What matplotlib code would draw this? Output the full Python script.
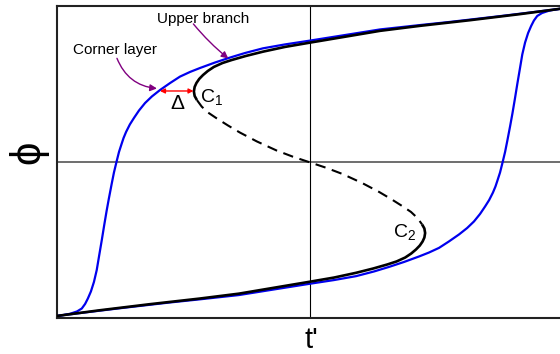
import matplotlib
matplotlib.use("Agg")
import matplotlib.pyplot as plt

plt.rcParams['font.family'] = ['Liberation Sans', 'DejaVu Sans']
plt.rcParams['mathtext.fontset'] = 'custom'
plt.rcParams['mathtext.rm'] = 'Liberation Sans'
plt.rcParams['mathtext.default'] = 'regular'

# S-shaped curve (black)
upper_t = [-0.445, -0.454, -0.457, -0.454, -0.447, -0.436, -0.421, -0.402, -0.378, -0.344,
           -0.308, -0.252, -0.183, -0.097, 0.0, 0.147, 0.279, 0.437, 0.634, 0.832, 1.0]
upper_phi = [0.398, 0.424, 0.453, 0.482, 0.507, 0.533, 0.558, 0.584, 0.610, 0.635,
             0.654, 0.680, 0.708, 0.738, 0.765, 0.805, 0.841, 0.873, 0.909, 0.948, 0.984]

lower_t = [-1.0, -0.832, -0.634, -0.437, -0.279, -0.147, 0.0, 0.097, 0.183, 0.252,
           0.308, 0.344, 0.378, 0.402, 0.421, 0.436, 0.447, 0.454, 0.457, 0.454, 0.445]
lower_phi = [-0.984, -0.948, -0.909, -0.873, -0.841, -0.805, -0.765, -0.738, -0.708, -0.680,
             -0.654, -0.635, -0.610, -0.584, -0.558, -0.533, -0.507, -0.482, -0.453, -0.424, -0.398]

middle_t = [-0.445, -0.426, -0.401, -0.367, -0.322, -0.275, -0.208, -0.130, -0.065, 0.0,
            0.065, 0.130, 0.208, 0.275, 0.322, 0.367, 0.401, 0.426, 0.445]
middle_phi = [0.398, 0.356, 0.318, 0.281, 0.235, 0.190, 0.133, 0.075, 0.035, 0.0,
              -0.035, -0.075, -0.133, -0.190, -0.235, -0.281, -0.318, -0.356, -0.398]

# hysteresis loop (blue): top-right -> upper branch -> left jump -> bottom-left
loop_top_t = [1.0, 0.911, 0.753, 0.555, 0.437, 0.279, 0.140, 0.0, -0.097, -0.184,
              -0.255, -0.314, -0.374, -0.433, -0.472, -0.512, -0.551, -0.591, -0.623, -0.650,
              -0.674, -0.694, -0.710, -0.725, -0.735, -0.742, -0.753, -0.762, -0.773, -0.782,
              -0.793, -0.802, -0.812, -0.821, -0.832, -0.841, -0.852, -0.864, -0.876, -0.887,
              -0.900, -0.919, -0.947, -0.974, -1.0]
loop_top_phi = [0.984, 0.966, 0.935, 0.898, 0.878, 0.850, 0.814, 0.778, 0.754, 0.729,
                0.699, 0.670, 0.638, 0.603, 0.578, 0.548, 0.507, 0.462, 0.421, 0.379,
                0.331, 0.283, 0.242, 0.194, 0.155, 0.121, 0.066, 0.008, -0.066, -0.139,
                -0.232, -0.312, -0.408, -0.498, -0.603, -0.690, -0.766, -0.827, -0.872, -0.907,
                -0.936, -0.955, -0.970, -0.978, -0.984]
# lower branch -> right jump -> top-right
loop_bot_t = [-1.0, -0.911, -0.753, -0.555, -0.437, -0.279, -0.140, 0.0, 0.097, 0.184,
              0.255, 0.314, 0.374, 0.433, 0.472, 0.512, 0.551, 0.591, 0.623, 0.650,
              0.674, 0.694, 0.710, 0.725, 0.735, 0.742, 0.753, 0.762, 0.773, 0.782,
              0.793, 0.802, 0.812, 0.821, 0.832, 0.841, 0.852, 0.864, 0.876, 0.887,
              0.900, 0.919, 0.947, 0.974, 1.0]
loop_bot_phi = [-0.984, -0.966, -0.935, -0.898, -0.878, -0.850, -0.814, -0.778, -0.754, -0.729,
                -0.699, -0.670, -0.638, -0.603, -0.578, -0.548, -0.507, -0.462, -0.421, -0.379,
                -0.331, -0.283, -0.242, -0.194, -0.155, -0.121, -0.066, -0.008, 0.066, 0.139,
                0.232, 0.312, 0.408, 0.498, 0.603, 0.690, 0.766, 0.827, 0.872, 0.907,
                0.936, 0.955, 0.970, 0.978, 0.984]

# annotation anchors (t', phi)
delta_left = (-0.591, 0.456)
delta_right = (-0.4585, 0.456)
corner_tip = (-0.603, 0.472)
corner_tail = (-0.761, 0.665)
branch_tip = (-0.321, 0.664)
branch_tail = (-0.459, 0.885)

fig = plt.figure(figsize=(5.6, 3.54), dpi=100)
ax = fig.add_axes([0.1009, 0.1003, 0.9036, 0.8828])
ax.set_xlim(-1, 1)
ax.set_ylim(-1, 1)
ax.set_xticks([])
ax.set_yticks([])
for s in ax.spines.values():
    s.set_linewidth(1.5)
    s.set_color('#222222')

ax.axhline(0, color='#555555', lw=1.2, zorder=1)
ax.axvline(0, color='black', lw=0.8, zorder=1)

ax.plot(loop_top_t, loop_top_phi, color='#0000ee', lw=1.6, zorder=2)
ax.plot(loop_bot_t, loop_bot_phi, color='#0000ee', lw=1.6, zorder=2)

ax.plot(upper_t, upper_phi, color='black', lw=1.9, zorder=3, solid_capstyle='butt')
ax.plot(lower_t, lower_phi, color='black', lw=1.9, zorder=3, solid_capstyle='butt')
ax.plot(middle_t, middle_phi, color='black', lw=1.5, ls=(0, (5, 3.2)), zorder=3)

# gap between corner layer and fold point
ax.annotate('', xy=delta_right, xytext=delta_left,
            arrowprops=dict(arrowstyle='<|-|>', color='red', lw=1.0,
                            mutation_scale=7, shrinkA=0, shrinkB=0))
ax.text(-0.524, 0.340, 'Δ', fontsize=15, ha='center', va='baseline')
ax.text(-0.433, 0.388, 'C$_1$', fontsize=14, ha='left', va='baseline')
ax.text(0.331, -0.476, 'C$_2$', fontsize=14, ha='left', va='baseline')

ax.text(-0.603, 0.894, 'Upper branch', fontsize=11, ha='left', va='baseline')
ax.text(-0.936, 0.693, 'Corner layer', fontsize=11, ha='left', va='baseline')
ax.annotate('', xy=branch_tip, xytext=branch_tail,
            arrowprops=dict(arrowstyle='-|>', color='purple', lw=1.0,
                            mutation_scale=10, shrinkA=0, shrinkB=0,
                            connectionstyle='arc3,rad=0.05'))
ax.annotate('', xy=corner_tip, xytext=corner_tail,
            arrowprops=dict(arrowstyle='-|>', color='purple', lw=1.0,
                            mutation_scale=10, shrinkA=0, shrinkB=0,
                            connectionstyle='arc3,rad=0.3'))

fig.text(311 / 560, 0.0, "t'", fontsize=21, ha='center', va='bottom')
fig.text(28 / 560, 1 - 152 / 354, '\u03d5', fontsize=30, rotation=90,
         ha='center', va='center')

fig.savefig('out.png', dpi=100)
